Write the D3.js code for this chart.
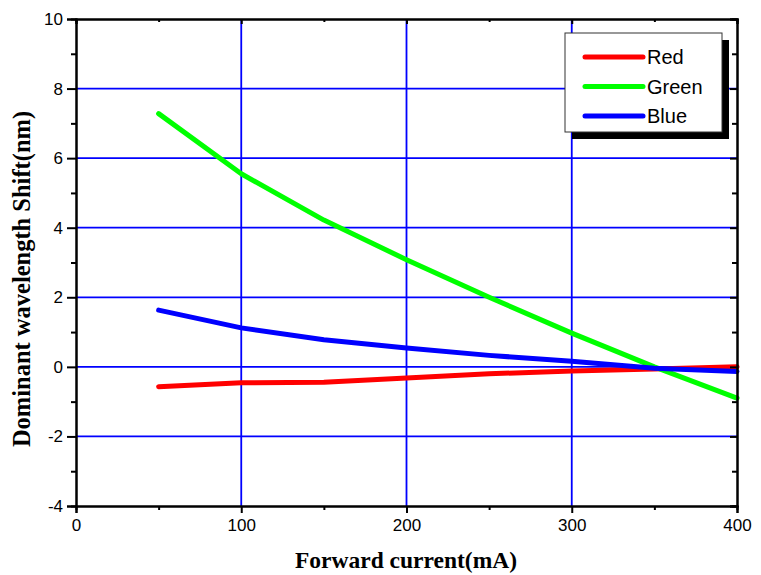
<!DOCTYPE html>
<html>
<head>
<meta charset="utf-8">
<script src="https://cdn.jsdelivr.net/npm/d3@7"></script>
<style>
  body { margin: 0; background: #fff; }
</style>
</head>
<body>
<svg id="svg" width="761" height="575"></svg>
<script>
// data
var current = [50, 100, 150, 200, 250, 300, 350, 400];
var redShift = [-0.57, -0.46, -0.44, -0.32, -0.2, -0.12, -0.06, 0.0];
var greenShift = [7.28, 5.55, 4.22, 3.08, 2.0, 0.97, 0.0, -0.9];
var blueShift = [1.63, 1.12, 0.78, 0.54, 0.33, 0.16, -0.04, -0.13];
var xTicks = [0, 100, 200, 300, 400];
var yTicks = [-4, -2, 0, 2, 4, 6, 8, 10];

var series = [
    { name: "Red", color: "#ff0000", values: redShift },
    { name: "Green", color: "#00ff00", values: greenShift },
    { name: "Blue", color: "#0000ff", values: blueShift }
];

var svg = d3.select("#svg");
var pLeft = 76, pRight = 737, pTop = 19, pBottom = 506;

var x = d3.scaleLinear().domain([0, 400]).range([pLeft, pRight]);
var y = d3.scaleLinear().domain([-4, 10]).range([pBottom, pTop]);

// grid
var grid = svg.append("g");
grid.selectAll("line.gx")
    .data([100, 200, 300])
    .enter().append("line")
    .attr("x1", d => x(d)).attr("x2", d => x(d))
    .attr("y1", pTop).attr("y2", pBottom)
    .attr("stroke", "#0000ff").attr("stroke-width", 1.8);
grid.selectAll("line.gy")
    .data([-2, 0, 2, 4, 6, 8])
    .enter().append("line")
    .attr("x1", pLeft).attr("x2", pRight)
    .attr("y1", d => y(d)).attr("y2", d => y(d))
    .attr("stroke", "#0000ff").attr("stroke-width", 1.8);

// data lines
var line = d3.line()
    .x((d, i) => x(current[i]))
    .y(d => y(d));
series.forEach(function (s) {
    svg.append("path")
        .datum(s.values)
        .attr("d", line)
        .attr("fill", "none")
        .attr("stroke", s.color)
        .attr("stroke-width", 5)
        .attr("stroke-linecap", "round")
        .attr("stroke-linejoin", "round");
});

// axes
var font = "Arial, 'Liberation Sans', sans-serif";
var minorX = d3.range(50, 400, 100);
var minorY = d3.range(-3, 10, 2);
var fmt = d => String(d); // plain hyphen minus like the original

var xAxis = svg.append("g").attr("transform", "translate(0," + pBottom + ")")
    .call(d3.axisBottom(x).tickValues(xTicks).tickSize(7).tickPadding(6).tickFormat(fmt));
var xAxisMinor = svg.append("g").attr("transform", "translate(0," + pBottom + ")")
    .call(d3.axisBottom(x).tickValues(minorX).tickSize(4).tickFormat(""));
var xTop = svg.append("g").attr("transform", "translate(0," + pTop + ")")
    .call(d3.axisBottom(x).tickValues(xTicks).tickSize(5).tickFormat(""));
var xTopMinor = svg.append("g").attr("transform", "translate(0," + pTop + ")")
    .call(d3.axisBottom(x).tickValues(minorX).tickSize(3).tickFormat(""));

var yAxis = svg.append("g").attr("transform", "translate(" + pLeft + ",0)")
    .call(d3.axisLeft(y).tickValues(yTicks).tickSize(9).tickPadding(4).tickFormat(fmt));
var yAxisMinor = svg.append("g").attr("transform", "translate(" + pLeft + ",0)")
    .call(d3.axisLeft(y).tickValues(minorY).tickSize(5).tickFormat(""));
var yRight = svg.append("g").attr("transform", "translate(" + pRight + ",0)")
    .call(d3.axisLeft(y).tickValues(yTicks).tickSize(7).tickFormat(""));
var yRightMinor = svg.append("g").attr("transform", "translate(" + pRight + ",0)")
    .call(d3.axisLeft(y).tickValues(minorY).tickSize(5).tickFormat(""));

[xAxis, xAxisMinor, xTop, xTopMinor, yAxis, yAxisMinor, yRight, yRightMinor].forEach(function (g) {
    g.select(".domain").attr("stroke", "#000").attr("stroke-width", 2);
    g.selectAll(".tick line").attr("stroke", "#000").attr("stroke-width", 2);
    g.selectAll("text").attr("font-family", font).attr("font-size", "17px").attr("fill", "#000");
});

// axis titles
svg.append("text")
    .attr("x", 406).attr("y", 568)
    .attr("text-anchor", "middle")
    .attr("font-family", "'Liberation Serif', 'Times New Roman', serif")
    .attr("font-weight", "bold").attr("font-size", "23.5px")
    .text("Forward current(mA)");
svg.append("text")
    .attr("transform", "translate(30,279) rotate(-90)")
    .attr("text-anchor", "middle")
    .attr("font-family", "'Liberation Serif', 'Times New Roman', serif")
    .attr("font-weight", "bold").attr("font-size", "24.5px")
    .text("Dominant wavelength Shift(nm)");

// legend
var lg = svg.append("g").attr("transform", "translate(565,33)");
lg.append("rect").attr("x", 7).attr("y", 7).attr("width", 157).attr("height", 99).attr("fill", "#000");
lg.append("rect").attr("x", 0).attr("y", 0).attr("width", 157).attr("height", 99)
    .attr("fill", "#fff").attr("stroke", "#333").attr("stroke-width", 1);
series.forEach(function (s, i) {
    var yy = 24 + i * 29.5;
    lg.append("line").attr("x1", 20).attr("x2", 78).attr("y1", yy).attr("y2", yy)
        .attr("stroke", s.color).attr("stroke-width", 5).attr("stroke-linecap", "round");
    lg.append("text").attr("x", 82).attr("y", yy + 7)
        .attr("font-family", font).attr("font-size", "20px")
        .text(s.name);
});
</script>
</body>
</html>
